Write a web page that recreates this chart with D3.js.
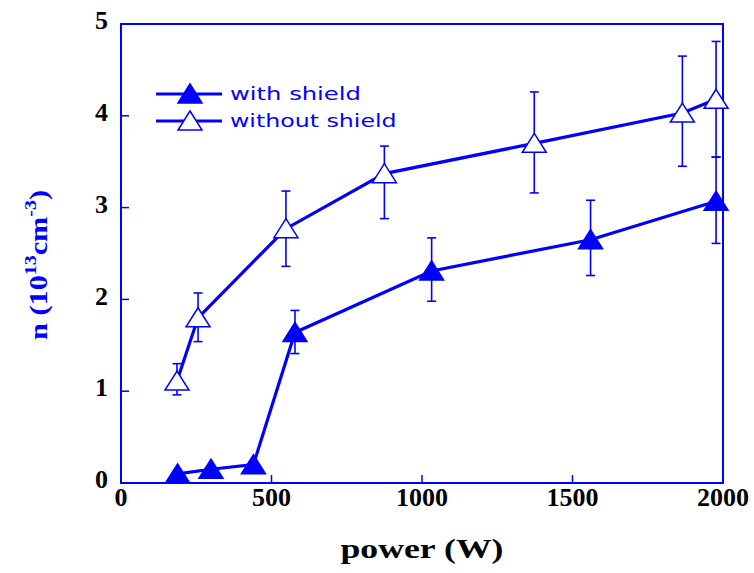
<!DOCTYPE html>
<html>
<head>
<meta charset="utf-8">
<script src="https://cdn.jsdelivr.net/npm/d3@7"></script>
<style>
    body { margin: 0; background: #fff; }
</style>
</head>
<body>
<div id="chart"></div>
<script>
// data (power in W, n in 10^13 cm^-3)
var powerWithout = [186, 256, 548, 875, 1373, 1865, 1977];
var nWithout = [1.11, 1.80, 2.77, 3.37, 3.70, 4.03, 4.18];
var errUpWithout = [0.19, 0.27, 0.41, 0.30, 0.56, 0.62, 0.63];
var errDownWithout = [0.15, 0.26, 0.41, 0.49, 0.54, 0.58, 0.63];

var powerWith = [188, 299, 440, 578, 1032, 1560, 1977];
var nWith = [0.10, 0.15, 0.20, 1.64, 2.31, 2.65, 3.07];
var errUpWith = [0, 0, 0, 0.24, 0.36, 0.43, 0.48];
var errDownWith = [0, 0, 0, 0.23, 0.33, 0.39, 0.46];

var xTicks = [0, 500, 1000, 1500, 2000];
var yTicks = [0, 1, 2, 3, 4, 5];
var seriesNames = ["with shield", "without shield"];

var svgWidth = 754;
var svgHeight = 573;
// plot frame (window.top is reserved, so no plain "top")
var plotLeft = 121, plotRight = 723, plotTop = 24, plotBottom = 483;
var blue = "#0000ff";

var svg = d3.select("#chart")
    .append("svg")
    .attr("width", svgWidth)
    .attr("height", svgHeight);

var x = d3.scaleLinear().domain([0, 2000]).range([plotLeft, plotRight]);
var y = d3.scaleLinear().domain([0, 5]).range([plotBottom, plotTop]);

// frame
svg.append("rect")
    .attr("x", plotLeft)
    .attr("y", plotTop)
    .attr("width", plotRight - plotLeft)
    .attr("height", plotBottom - plotTop)
    .attr("fill", "none")
    .attr("stroke", blue)
    .attr("stroke-width", 2);

// inward ticks, only the inner ones
svg.selectAll(".ytick")
    .data(yTicks.slice(1, -1))
    .enter()
    .append("line")
    .attr("x1", plotLeft)
    .attr("x2", plotLeft + 8)
    .attr("y1", function (d) { return y(d); })
    .attr("y2", function (d) { return y(d); })
    .attr("stroke", blue)
    .attr("stroke-width", 1.5);

svg.selectAll(".xtick")
    .data(xTicks.slice(1, -1))
    .enter()
    .append("line")
    .attr("x1", function (d) { return x(d); })
    .attr("x2", function (d) { return x(d); })
    .attr("y1", plotBottom)
    .attr("y2", plotBottom - 8)
    .attr("stroke", blue)
    .attr("stroke-width", 1.5);

// tick labels
svg.selectAll(".ylabel")
    .data(yTicks)
    .enter()
    .append("text")
    .attr("x", 108)
    .attr("y", function (d) { return y(d) - 4; })
    .attr("dy", "0.35em")
    .attr("text-anchor", "end")
    .attr("font-family", "Liberation Serif")
    .attr("font-weight", "bold")
    .attr("font-size", "26px")
    .attr("fill", "#000")
    .text(function (d) { return d; });

svg.selectAll(".xlabel")
    .data(xTicks)
    .enter()
    .append("text")
    .attr("x", function (d) { return x(d); })
    .attr("y", 506)
    .attr("text-anchor", "middle")
    .attr("font-family", "Liberation Serif")
    .attr("font-weight", "bold")
    .attr("font-size", "26px")
    .attr("fill", "#000")
    .text(function (d) { return d; });

// axis titles
svg.append("text")
    .attr("x", 422)
    .attr("y", 558)
    .attr("text-anchor", "middle")
    .attr("font-family", "Liberation Serif")
    .attr("font-weight", "bold")
    .attr("font-size", "28px")
    .attr("textLength", 163)
    .attr("lengthAdjust", "spacingAndGlyphs")
    .attr("fill", "#000")
    .text("power (W)");

var yTitle = svg.append("text")
    .attr("transform", "translate(47,265) rotate(-90)")
    .attr("text-anchor", "middle")
    .attr("font-family", "Liberation Serif")
    .attr("font-weight", "bold")
    .attr("font-size", "26px")
    .attr("textLength", 150)
    .attr("lengthAdjust", "spacingAndGlyphs")
    .attr("fill", blue);
yTitle.append("tspan").text("n (10");
yTitle.append("tspan").attr("dy", -11).attr("font-size", "17px").text("13");
yTitle.append("tspan").attr("dy", 11).text("cm");
yTitle.append("tspan").attr("dy", -11).attr("font-size", "17px").text("-3");
yTitle.append("tspan").attr("dy", 11).text(")");

// triangle marker
var tri = "M0,-10L12,9L-12,9Z";

function drawSeries(px, py, up, down, filled) {
    var pts = px.map(function (p, i) { return [p, py[i], up[i], down[i]]; });

    var line = d3.line()
        .x(function (d) { return x(d[0]); })
        .y(function (d) { return y(d[1]); });

    svg.append("path")
        .datum(pts)
        .attr("d", line)
        .attr("fill", "none")
        .attr("stroke", blue)
        .attr("stroke-width", 3.2);

    var bars = pts.filter(function (d) { return d[2] > 0; });
    var eb = svg.selectAll(null)
        .data(bars)
        .enter()
        .append("g")
        .attr("stroke", blue)
        .attr("stroke-width", 1.6);
    eb.append("line")
        .attr("x1", function (d) { return x(d[0]); })
        .attr("x2", function (d) { return x(d[0]); })
        .attr("y1", function (d) { return y(d[1] + d[2]); })
        .attr("y2", function (d) { return y(d[1] - d[3]); });
    eb.append("line")
        .attr("x1", function (d) { return x(d[0]) - 4.5; })
        .attr("x2", function (d) { return x(d[0]) + 4.5; })
        .attr("y1", function (d) { return y(d[1] + d[2]); })
        .attr("y2", function (d) { return y(d[1] + d[2]); });
    eb.append("line")
        .attr("x1", function (d) { return x(d[0]) - 4.5; })
        .attr("x2", function (d) { return x(d[0]) + 4.5; })
        .attr("y1", function (d) { return y(d[1] - d[3]); })
        .attr("y2", function (d) { return y(d[1] - d[3]); });

    svg.selectAll(null)
        .data(pts)
        .enter()
        .append("path")
        .attr("d", tri)
        .attr("transform", function (d) { return "translate(" + x(d[0]) + "," + y(d[1]) + ")"; })
        .attr("fill", filled ? blue : "#fff")
        .attr("stroke", blue)
        .attr("stroke-width", 1.5);
}

drawSeries(powerWithout, nWithout, errUpWithout, errDownWithout, false);
drawSeries(powerWith, nWith, errUpWith, errDownWith, true);

// legend
var legend = svg.selectAll(".legend")
    .data(seriesNames)
    .enter()
    .append("g")
    .attr("transform", function (d, i) { return "translate(0," + (94 + i * 27) + ")"; });

legend.append("line")
    .attr("x1", 156)
    .attr("x2", 222)
    .attr("stroke", blue)
    .attr("stroke-width", 3.2);

legend.append("path")
    .attr("d", tri)
    .attr("transform", "translate(190,0)")
    .attr("fill", function (d, i) { return i == 0 ? blue : "#fff"; })
    .attr("stroke", blue)
    .attr("stroke-width", 1.5);

legend.append("text")
    .attr("x", 230)
    .attr("dy", "0.35em")
    .attr("font-family", "DejaVu Sans")
    .attr("font-size", "18px")
    .attr("fill", blue)
    .attr("textLength", function (d) { return d.length * 11.9; })
    .attr("lengthAdjust", "spacingAndGlyphs")
    .text(function (d) { return d; });
</script>
</body>
</html>
